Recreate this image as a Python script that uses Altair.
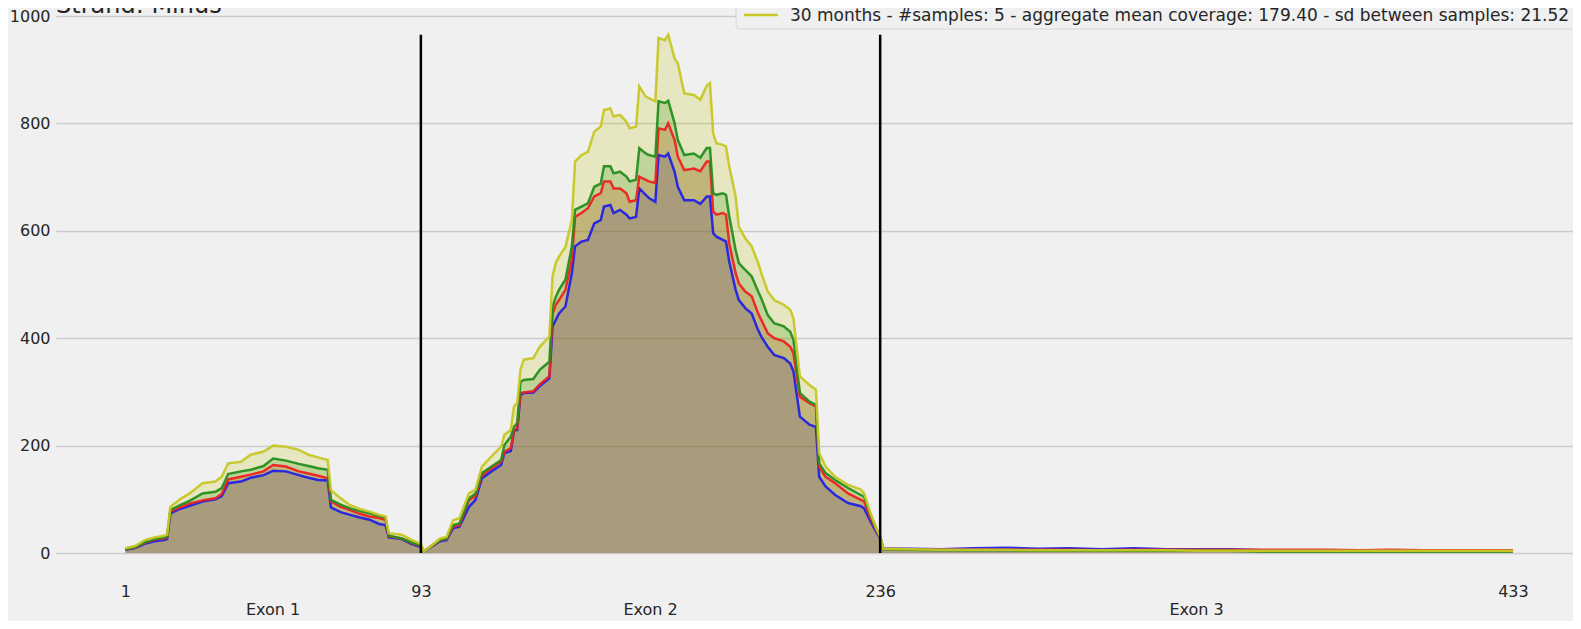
import altair as alt
import pandas as pd

# ---------------- data ----------------
positions = [1, 4, 7, 10, 13, 14, 15, 18, 21, 25, 29, 31, 33, 37, 40, 44, 47, 51, 55, 58,
             61, 64, 65, 68, 71, 74, 77, 80, 82, 83, 87, 90, 93,
             94, 96, 99, 101, 103, 105, 108, 110, 112, 115, 118, 119, 121, 122, 123, 124, 125, 128, 130, 133,
             134, 135, 136, 138, 140, 141, 143, 145, 147, 149, 150, 152, 153, 155, 157, 158, 160, 161, 163, 164,
             166, 167, 169, 170, 172, 173, 175, 178, 180, 182, 183, 184, 185, 187, 188, 189, 191, 192, 194, 196,
             198, 199, 201, 203, 206, 208, 209, 211, 214, 216, 217, 219, 222, 226, 230, 231, 233, 235, 236,
             237, 245, 255, 265, 275, 285, 295, 305, 315, 325, 335, 345, 355, 365, 375, 385, 395, 405, 415, 425, 433]

cov_yellow = [9, 13, 24, 29, 32, 34, 86, 100, 111, 130, 133, 142, 167, 170, 183, 189, 200, 198, 192, 183,
              178, 173, 117, 102, 89, 82, 77, 71, 68, 37, 34, 25, 17,
              3, 12, 27, 30, 61, 65, 111, 118, 161, 180, 198, 220, 229, 273, 279, 341, 360, 363, 384, 403,
              515, 540, 552, 570, 620, 729, 741, 747, 785, 794, 825, 828, 813, 816, 803, 791, 794, 869, 850, 847,
              841, 959, 955, 965, 921, 912, 856, 853, 844, 870, 875, 782, 763, 760, 757, 720, 664, 608, 586, 571,
              540, 521, 487, 471, 462, 453, 437, 329, 313, 304, 186, 161, 142, 127, 118, 111, 74, 43, 31,
              8, 7, 6, 6, 6, 5, 5, 5, 5, 5, 4, 4, 4, 4, 4, 4, 4, 4, 4, 4, 4]

cov_green = [7, 11, 20, 26, 29, 31, 80, 89, 97, 111, 114, 121, 147, 152, 155, 162, 176, 172, 166, 162,
             158, 155, 99, 90, 83, 78, 74, 69, 66, 32, 27, 20, 14,
             3, 12, 24, 27, 52, 55, 102, 111, 149, 161, 173, 201, 217, 235, 242, 319, 322, 324, 341, 356,
             459, 477, 490, 509, 571, 639, 645, 651, 682, 688, 720, 720, 707, 710, 701, 692, 695, 754, 744, 741,
             738, 841, 838, 842, 800, 769, 741, 744, 736, 754, 754, 670, 667, 670, 667, 627, 564, 540, 527, 515,
             487, 474, 443, 428, 422, 412, 397, 298, 282, 276, 167, 149, 136, 121, 108, 105, 71, 43, 31,
             7, 6, 5, 5, 5, 4, 4, 4, 4, 4, 4, 4, 3, 3, 3, 3, 3, 3, 3, 3, 3]

cov_red = [7, 10, 19, 25, 27, 29, 77, 85, 92, 98, 102, 110, 137, 142, 146, 152, 164, 161, 152, 148,
           144, 139, 96, 86, 80, 73, 68, 65, 62, 31, 27, 19, 13,
           3, 12, 24, 26, 49, 52, 99, 106, 145, 158, 170, 189, 195, 230, 232, 298, 299, 301, 314, 329,
           446, 462, 471, 490, 546, 626, 633, 642, 664, 670, 692, 692, 679, 679, 670, 654, 657, 701, 695, 692,
           689, 791, 788, 800, 769, 738, 713, 716, 711, 729, 729, 636, 630, 633, 630, 577, 521, 502, 487, 478,
           446, 434, 409, 400, 394, 384, 372, 291, 279, 273, 161, 142, 130, 111, 99, 96, 65, 40, 29,
           8, 7, 6, 6, 6, 6, 6, 5, 6, 6, 6, 6, 6, 6, 6, 5, 6, 5, 5, 5, 5]

cov_blue = [6, 9, 17, 22, 24, 26, 74, 82, 88, 96, 100, 106, 130, 133, 140, 145, 153, 152, 145, 140,
            136, 135, 85, 76, 71, 66, 62, 54, 52, 29, 26, 17, 11,
            3, 11, 22, 24, 46, 49, 86, 99, 139, 152, 164, 186, 190, 228, 229, 294, 298, 299, 311, 325,
            422, 434, 446, 459, 521, 571, 580, 583, 614, 620, 645, 648, 633, 639, 630, 623, 626, 679, 667, 661,
            654, 741, 738, 744, 710, 682, 657, 657, 650, 664, 664, 596, 589, 583, 580, 543, 490, 471, 456, 446,
            415, 403, 384, 369, 363, 353, 338, 254, 239, 235, 142, 124, 108, 93, 87, 83, 59, 37, 28,
            8, 8, 7, 9, 10, 8, 9, 7, 9, 7, 7, 7, 5, 5, 5, 5, 5, 4, 4, 4, 4]

series_keys = ["blue", "red", "green", "yellow"]
series_values = [cov_blue, cov_red, cov_green, cov_yellow]
line_colors = ["#2222e5", "#ee2222", "#268e1e", "#c7c726"]
fill_colors = ["#0000ff", "#ff0000", "#008000", "#bfbf00"]

tick_values = [1, 93, 236, 433]
y_ticks = [0, 200, 400, 600, 800, 1000]
exon_bounds = [93, 236]
exon_names = ["Exon 1", "Exon 2", "Exon 3"]
legend_label = "30 months - #samples: 5 - aggregate mean coverage: 179.40 - sd between samples: 21.52"
title_text = "Strand: Minus"

# ---------------- chart ----------------
W, H = 1517, 537
FONT = "DejaVu Sans"
TXT = "#262626"

xs = alt.Scale(domain=[-20.6, 451.7], nice=False, zero=False)
ys = alt.Scale(domain=[0, 1000], nice=False)
x_axis = alt.Axis(values=tick_values, grid=False, domain=False, ticks=False, format="d",
                  labelFontSize=16, labelFont=FONT, labelColor=TXT,
                  labelPadding=30, labelFlush=False, title=None)
y_axis = alt.Axis(values=y_ticks, grid=True, gridColor="#cbcbcb", gridWidth=1.3, domain=False,
                  ticks=False, format="d", labelFontSize=16, labelFont=FONT, labelColor=TXT,
                  labelPadding=6, title=None)


def X(field):
    return alt.X(field, scale=xs, axis=x_axis)


def Y(field):
    return alt.Y(field, scale=ys, axis=y_axis)


frames = {k: pd.DataFrame({"pos": positions, "cov": v}) for k, v in zip(series_keys, series_values)}

layers = []
for k, fc in zip(series_keys, fill_colors):
    layers.append(alt.Chart(frames[k]).mark_area(color=fc, opacity=0.2).encode(x=X("pos:Q"), y=Y("cov:Q")))

for k, lc in zip(series_keys, line_colors):
    layers.append(alt.Chart(frames[k]).mark_line(color=lc, strokeWidth=2.5, opacity=0.95).encode(
        x=X("pos:Q"), y=Y("cov:Q")))

vmax = max(max(v) for v in series_values)
rules_df = pd.DataFrame({"pos": exon_bounds, "cov": [0] * len(exon_bounds), "top": [vmax] * len(exon_bounds)})
layers.append(alt.Chart(rules_df).mark_rule(color="black", strokeWidth=2.5).encode(
    x=X("pos:Q"), y=Y("cov:Q"), y2="top:Q"))

bounds = [tick_values[0]] + exon_bounds + [tick_values[-1]]
exon_df = pd.DataFrame({"pos": [(bounds[i] + bounds[i + 1]) / 2 for i in range(3)], "name": exon_names})
layers.append(alt.Chart(exon_df).mark_text(fontSize=16, font=FONT, color=TXT, baseline="middle").encode(
    x=X("pos:Q"), y=alt.value(H + 57), text="name:N"))

one = pd.DataFrame({"t": [title_text], "l": [legend_label]})
layers.append(alt.Chart(one).mark_text(fontSize=24, font=FONT, color=TXT, align="left",
                                       baseline="alphabetic").encode(
    x=alt.value(0), y=alt.value(-3), text="t:N"))
layers.append(alt.Chart(one).mark_rect(fill="#f0f0f0", stroke="#d6d6d6", strokeWidth=1,
                                       cornerRadius=4).encode(
    x=alt.value(680), x2=alt.value(W + 10), y=alt.value(-80), y2=alt.value(13)))
layers.append(alt.Chart(one).mark_rule(color="#c7c726", strokeWidth=2.5).encode(
    x=alt.value(688), x2=alt.value(722), y=alt.value(-1)))
layers.append(alt.Chart(one).mark_text(fontSize=17, font=FONT, color=TXT, align="left",
                                       baseline="middle").encode(
    x=alt.value(734), y=alt.value(0), text="l:N"))

chart = alt.layer(*layers).properties(
    width=W, height=H, background="#f0f0f0",
    padding={"left": 48, "top": 8, "right": 0, "bottom": 68},
    autosize=alt.AutoSizeParams(type="none"),
).configure(font=FONT, view=alt.ViewConfig(stroke=None))

chart.save("out.html", embed_options={"renderer": "svg", "actions": False})
